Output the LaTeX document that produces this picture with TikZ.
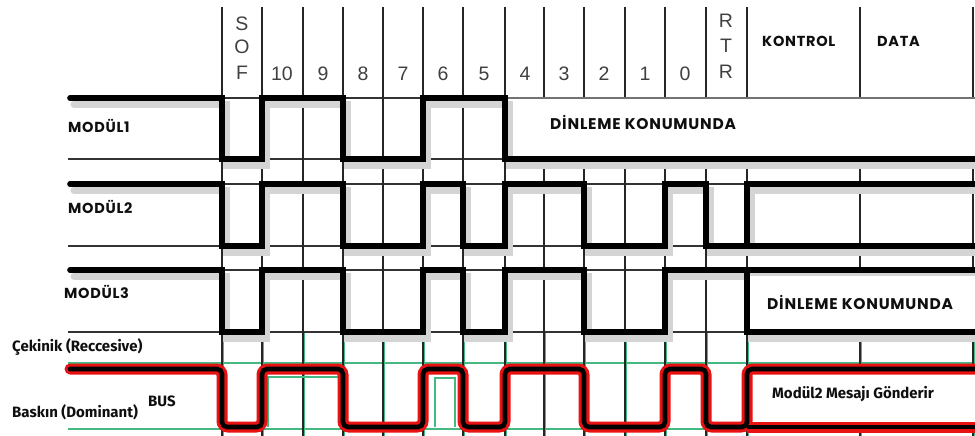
\documentclass[tikz,border=0pt]{standalone}
\usepackage{fontspec}
\setmainfont{Liberation Sans}
\newfontfamily\geo{Poppins}[LetterSpace=5]
\newfontfamily\lab{Fira Sans}
\definecolor{busred}{RGB}{232,18,18}
\definecolor{grn}{RGB}{70,185,130}
\definecolor{ink}{RGB}{15,15,15}
\begin{document}
\begin{tikzpicture}[x=1pt,y=-1pt,
  gridline/.style={line width=1.4pt, black!85},
  refline/.style={line width=1.4pt, black!80},
  wave/.style={line width=5.6pt, line cap=round, black},
  shade/.style={line width=7pt, black!17, line cap=round},
  hdr/.style={font=\fontsize{19.5}{19.5}\selectfont, text=black!75, inner sep=0pt},
  modlbl/.style={font=\geo\bfseries\fontsize{14.5}{14.5}\selectfont, text=ink, inner sep=0pt, anchor=west},
  boxlbl/.style={font=\geo\bfseries\fontsize{14.5}{14.5}\selectfont, text=ink, inner sep=0pt, anchor=west},
  dinlbl/.style={font=\geo\bfseries\fontsize{15.5}{15.5}\selectfont, text=ink, inner sep=0pt, anchor=west},
  buslbl/.style={font=\lab\bfseries\fontsize{15}{15}\selectfont, text=ink, inner sep=0pt, anchor=west},
  busline/.style={line width=11pt, busred, rounded corners=6pt, line cap=round},
  buscore/.style={line width=4.6pt, black, rounded corners=5pt, line cap=round},
  greenline/.style={line width=2pt, grn}
]
\useasboundingbox (0,0) rectangle (975,436);
\fill[white] (0,0) rectangle (975,436);

% thin reference lines of the module rows
\draw[refline] (68,159) -- (975,159);
\draw[refline] (222,98) -- (505,98);
\draw[refline] (222,184) -- (975,184);
\draw[refline] (68,246) -- (975,246);
\draw[refline] (222,270) -- (975,270);
\draw[refline] (68,332) -- (975,332);

% bus reference lines (green)
\draw[greenline] (68,363) -- (975,363);
\draw[greenline] (68,429) -- (975,429);

% vertical grid lines
\foreach \gx in {222,262,303,343,383,423,463,505,544,584,625,665,706,747,860,973}{
  \draw[gridline] (\gx,7) -- (\gx,333);
  \draw[line width=2.6pt, grn] (\gx+0.6,333) -- (\gx+0.6,436);
  \draw[line width=1.1pt, black!85] (\gx,333) -- (\gx,436);
}

% listening boxes
\fill[white] (506,99) rectangle (975,157);
\draw[line width=1pt, black!55] (505,98) -- (975,98);
\fill[white] (748,272) rectangle (975,330);

% waveforms
\def\waveA{(70,98) -- (222,98) -- (222,159) -- (262,159) -- (262,98) -- (343,98) -- (343,159) -- (423,159) -- (423,98) -- (505,98) -- (505,159) -- (975,159)}
\def\waveB{(70,184) -- (222,184) -- (222,246) -- (262,246) -- (262,184) -- (343,184) -- (343,246) -- (423,246) -- (423,184) -- (463,184) -- (463,246) -- (505,246) -- (505,184) -- (584,184) -- (584,246) -- (665,246) -- (665,184) -- (706,184) -- (706,246) -- (747,246) -- (747,184) -- (975,184)}
\def\waveBb{(747,246) -- (975,246)}
\def\waveC{(70,270) -- (222,270) -- (222,332) -- (262,332) -- (262,270) -- (343,270) -- (343,332) -- (423,332) -- (423,270) -- (463,270) -- (463,332) -- (505,332) -- (505,270) -- (584,270) -- (584,332) -- (665,332) -- (665,270) -- (975,270)}
\def\waveCb{(747,270) -- (747,332) -- (975,332)}

\begin{scope}[shift={(4,6)}]
  \draw[shade] \waveA;
  \draw[shade] \waveB;
  \draw[shade] \waveBb;
  \draw[shade] \waveC;
  \draw[shade] \waveCb;
\end{scope}
\fill[white] (748,276) rectangle (975,329);
\draw[wave] \waveA;
\draw[wave] \waveB;
\draw[wave] \waveBb;
\draw[wave] \waveC;
\draw[wave, line cap=butt] \waveCb;

% inner green traces in the bus
\draw[line width=1.6pt, grn] (268,427) -- (268,377) -- (338,377);
\draw[line width=1.6pt, grn] (435,427) -- (435,378) -- (455,378) -- (455,427);

% bus waveform
\def\busP{(70,369) -- (222,369) -- (222,427) -- (262,427) -- (262,369) -- (343,369) -- (343,427) -- (423,427) -- (423,369) -- (463,369) -- (463,427) -- (505,427) -- (505,369) -- (584,369) -- (584,427) -- (665,427) -- (665,369) -- (706,369) -- (706,427) -- (747,427) -- (747,369) -- (975,369)}
\def\busQ{(747,427) -- (975,427)}
\fill[white] (752,374) rectangle (975,422);
\draw[busline] \busP;
\draw[busline, line cap=butt] \busQ;
\draw[buscore] \busP;
\draw[buscore, line cap=butt] \busQ;

% header labels
\node[hdr] (s1) at (242,24) {S};
\node[hdr] (o1) at (242,47) {O};
\node[hdr] (f1) at (242,73) {F};
\node[hdr] (b10) at (282,74) {10};
\node[hdr] (b9) at (323,74) {9};
\node[hdr] (b8) at (363,74) {8};
\node[hdr] (b7) at (403,74) {7};
\node[hdr] (b6) at (443,74) {6};
\node[hdr] (b5) at (484,74) {5};
\node[hdr] (b4) at (525,74) {4};
\node[hdr] (b3) at (564,74) {3};
\node[hdr] (b2) at (604,74) {2};
\node[hdr] (b1) at (645,74) {1};
\node[hdr] (b0) at (685,74) {0};
\node[hdr] (r1) at (726,21) {R};
\node[hdr] (t1) at (726,46) {T};
\node[hdr] (r2) at (726,72) {R};
\node[boxlbl] (kon) at (762,41) {KONTROL};
\node[boxlbl] (dat) at (877,41) {DATA};

% module labels
\node[modlbl] (m1) at (68,126) {MODÜL1};
\node[modlbl] (m2) at (68,207) {MODÜL2};
\node[modlbl] (m3) at (64,292) {MODÜL3};
\node[dinlbl] (d1) at (550,122) {DİNLEME KONUMUNDA};
\node[dinlbl] (d3) at (767,302) {DİNLEME KONUMUNDA};

% bus labels
\node[buslbl] (cek) at (12,347) {Çekinik (Reccesive)};
\node[buslbl] (bas) at (12,412) {Baskın (Dominant)};
\node[buslbl] (bus) at (148,401) {BUS};
\node[buslbl] (gon) at (772,394) {Modül2 Mesajı Gönderir};
\end{tikzpicture}
\end{document}
